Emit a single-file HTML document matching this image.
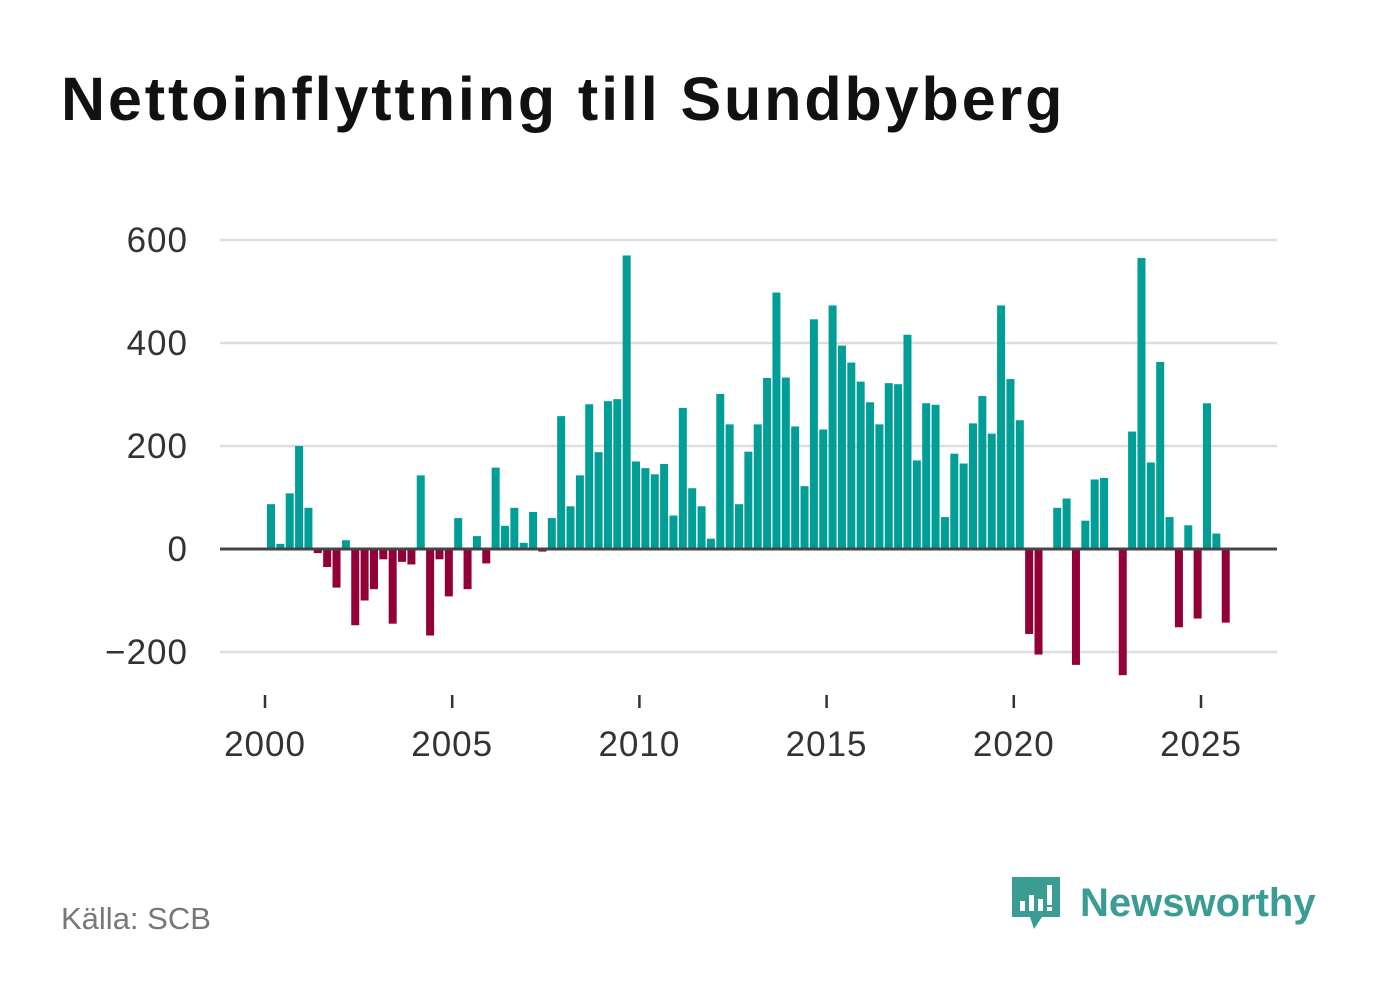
<!DOCTYPE html>
<html><head><meta charset="utf-8"><style>
body{margin:0;width:1382px;height:999px;background:#fff;font-family:"Liberation Sans","DejaVu Sans",sans-serif;overflow:hidden;position:relative}
#title{position:absolute;left:61px;top:64px;font-size:61px;font-weight:bold;color:#111;letter-spacing:2.9px;white-space:nowrap}
#source{position:absolute;left:61px;top:901px;font-size:31px;color:#777}
#logo{position:absolute;left:1010px;top:873px;display:flex;align-items:center}
#logo span{font-size:40px;font-weight:bold;color:#3a9c92;margin-left:16px}
</style></head><body>
<div id="title">Nettoinflyttning till Sundbyberg</div>
<svg id="chart" width="1382" height="999" style="position:absolute;left:0;top:0"></svg>
<div id="source">Källa: SCB</div>
<div id="logo">
<svg width="54" height="60"><path d="M2 4h48v40H32l-8 12-4-12H2z" fill="#3a9c92"/><rect x="10" y="28" width="5" height="10" fill="#fff"/><rect x="19" y="22" width="5" height="16" fill="#fff"/><rect x="28" y="26" width="5" height="12" fill="#fff"/><rect x="37" y="12" width="5" height="20" fill="#fff"/><rect x="37" y="34" width="5" height="4" fill="#fff"/></svg>
<span>Newsworthy</span></div>
<script>
const values=[87,10,108,200,80,-8,-35,-75,17,-148,-100,-78,-20,-145,-25,-30,143,-168,-20,-92,60,-78,25,-28,158,45,80,12,72,-5,60,258,83,143,281,188,287,291,570,170,157,145,165,65,274,118,83,20,301,242,87,189,242,332,498,333,238,122,446,232,473,395,362,325,285,242,322,320,416,172,283,280,62,185,166,244,297,224,473,330,250,-165,-205,0,80,98,-225,55,135,138,0,-245,228,565,168,363,62,-152,46,-135,283,30,-143];
const startYear=2000;
const yTicks=[-200,0,200,400,600];
const yTickLabels=["\u2212200","0","200","400","600"];
const xTicks=[2000,2005,2010,2015,2020,2025];
const svg=document.getElementById('chart');
const NS='http://www.w3.org/2000/svg';
const y=v=>549-v*0.515;
const x=t=>265+(t-2000)*37.44;
function mk(tag,attrs){const e=document.createElementNS(NS,tag);for(const k in attrs)e.setAttribute(k,attrs[k]);svg.appendChild(e);return e;}
yTicks.forEach((t,i)=>{
 if(t!==0){const g=mk('line',{x1:220,x2:1277,y1:y(t),y2:y(t),stroke:'#ddd','stroke-width':2.5});
 
 }
 const l=mk('text',{x:188,y:y(t)+12,'text-anchor':'end','font-size':35,'letter-spacing':1,fill:'#333','font-family':'Liberation Sans, sans-serif'});
 l.textContent=yTickLabels[i];
 
 
});
values.forEach((v,i)=>{
 const cx=x(startYear+i/4)+6;
 const r=mk('rect',{x:cx-4,y:Math.min(y(v),y(0)),width:8,height:Math.abs(y(v)-y(0)),fill:v>=0?'#009e96':'#930038'});
 
 
});
const z=mk('line',{x1:220,x2:1277,y1:y(0),y2:y(0),stroke:'#444','stroke-width':3});


xTicks.forEach(t=>{
 const tk=mk('line',{x1:x(t),x2:x(t),y1:695,y2:708,stroke:'#333','stroke-width':2.5});
 
 
 const l=mk('text',{x:x(t),y:756,'text-anchor':'middle','font-size':35,'letter-spacing':1,fill:'#333','font-family':'Liberation Sans, sans-serif'});
 l.textContent=t;
 
 
});
</script>
</body></html>
